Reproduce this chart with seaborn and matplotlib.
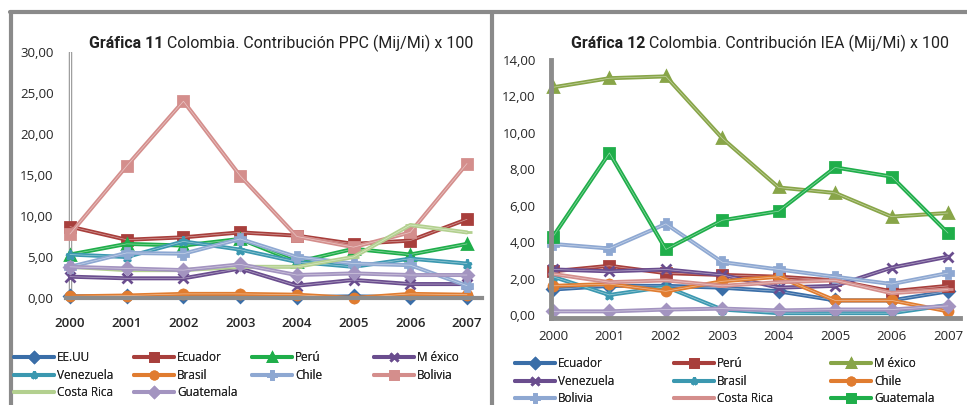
import matplotlib
matplotlib.use("Agg")
import matplotlib.pyplot as plt
import seaborn as sns
import pandas as pd

years = [2000, 2001, 2002, 2003, 2004, 2005, 2006, 2007]

# Gráfica 11 - PPC
ppc_names = ["EE.UU", "Ecuador", "Perú", "M éxico", "Venezuela", "Brasil",
             "Chile", "Bolivia", "Costa Rica", "Guatemala"]
ppc_eeuu = [0.2, 0.2, 0.2, 0.2, 0.1, 0.2, 0.1, 0.1]
ppc_ecuador = [8.7, 7.1, 7.4, 8.0, 7.6, 6.6, 7.0, 9.6]
ppc_peru = [5.3, 6.6, 6.4, 7.2, 4.4, 6.0, 5.3, 6.6]
ppc_mexico = [2.6, 2.4, 2.4, 3.6, 1.5, 2.2, 1.7, 1.7]
ppc_venezuela = [5.3, 5.0, 6.9, 5.9, 4.4, 3.8, 4.8, 4.2]
ppc_brasil = [0.2, 0.3, 0.5, 0.5, 0.4, 0.0, 0.5, 0.4]
ppc_chile = [3.8, 5.5, 5.4, 7.2, 5.0, 4.2, 4.0, 1.5]
ppc_bolivia = [7.8, 16.1, 24.0, 14.9, 7.5, 6.2, 8.0, 16.4]
ppc_costarica = [3.8, 3.4, 3.4, 3.8, 3.8, 5.0, 8.9, 8.0]
ppc_guatemala = [3.8, 3.6, 3.4, 4.1, 2.8, 3.0, 2.8, 2.8]

# Gráfica 12 - IEA
iea_names = ["Ecuador", "Perú", "M éxico", "Venezuela", "Brasil", "Chile",
             "Bolivia", "Costa Rica", "Guatemala", "_otro"]
iea_ecuador = [1.4, 1.6, 1.6, 1.5, 1.3, 0.8, 0.8, 1.3]
iea_peru = [2.4, 2.7, 2.3, 2.2, 2.1, 1.9, 1.3, 1.6]
iea_mexico = [12.5, 13.0, 13.1, 9.7, 7.0, 6.7, 5.4, 5.6]
iea_venezuela = [2.5, 2.4, 2.5, 2.2, 1.5, 1.6, 2.6, 3.2]
iea_brasil = [2.1, 1.1, 1.55, 0.3, 0.1, 0.1, 0.1, 0.55]
iea_chile = [1.6, 1.7, 1.3, 1.85, 2.1, 0.8, 0.8, 0.2]
iea_bolivia = [3.9, 3.65, 5.0, 2.9, 2.5, 2.1, 1.7, 2.3]
iea_costarica = [2.25, 1.8, 1.9, 1.6, 1.8, 1.9, 1.2, 1.4]
iea_guatemala = [4.3, 8.9, 3.6, 5.2, 5.7, 8.1, 7.6, 4.5]
iea_otro = [0.2, 0.2, 0.3, 0.35, 0.25, 0.3, 0.3, 0.5]

ppc_values = [ppc_eeuu, ppc_ecuador, ppc_peru, ppc_mexico, ppc_venezuela,
              ppc_brasil, ppc_chile, ppc_bolivia, ppc_costarica, ppc_guatemala]
iea_values = [iea_ecuador, iea_peru, iea_mexico, iea_venezuela, iea_brasil,
              iea_chile, iea_bolivia, iea_costarica, iea_guatemala, iea_otro]

# styles
ppc_colors = ["#3a6ea8", "#a83f3c", "#1fae4a", "#6a4d8e", "#3b98b0", "#e07c30",
              "#8ea8d2", "#d48e8c", "#b3d08f", "#a394c0"]
ppc_markers = ["D", "s", "^", "x", "*", "o", "P", "s", "_", "D"]
iea_colors = ["#3a6ea8", "#a83f3c", "#88a548", "#6a4d8e", "#3b98b0", "#e07c30",
              "#8ea8d2", "#d48e8c", "#1fae4a", "#a394c0"]
iea_markers = ["D", "s", "^", "x", "*", "o", "P", "_", "s", "D"]

sns.set_style("white")
plt.rcParams["font.family"] = ["Open Sans", "DejaVu Sans"]

W, H = 967, 405
fig = plt.figure(figsize=(W / 100, H / 100), dpi=100)


def px_axes(x0, x1, y0, y1):
    return fig.add_axes([x0 / W, 1 - y1 / H, (x1 - x0) / W, (y1 - y0) / H])


def draw(ax, names, values, colors, markers):
    handles = []
    for name, vals, c, m in zip(names, values, colors, markers):
        df = pd.DataFrame({"year": years, "val": vals})
        sns.lineplot(data=df, x="year", y="val", ax=ax, color=c, marker=m,
                     markersize=6.5, markeredgecolor=c, markeredgewidth=2,
                     linewidth=2.9, label=name, clip_on=False, legend=False)
        ax.plot(years, vals, color="white", lw=0.5, alpha=0.5, clip_on=False)
        handles.append(ax.lines[-2])
    return handles


def column_legends(handles, labels, ncol, xs, y_top):
    for col in range(ncol):
        idx = list(range(col, len(handles), ncol))
        idx = [i for i in idx if not labels[i].startswith("_")]
        leg = fig.legend([handles[i] for i in idx], [labels[i] for i in idx],
                         loc="upper left", bbox_to_anchor=(xs[col] / W, 1 - y_top / H),
                         frameon=False, fontsize=8.5, handlelength=3.4,
                         handletextpad=0.25, labelspacing=0.4, markerscale=0.8,
                         borderpad=0, borderaxespad=0)
        fig.add_artist(leg)


def title(x, y, bold, rest):
    t = fig.text(x / W, 1 - y / H, bold, fontsize=11.5, fontweight="bold",
                 family=["Roboto", "DejaVu Sans"], va="center", ha="left", color="#222222")
    fig.canvas.draw()
    bb = t.get_window_extent()
    fig.text(bb.x1 / W + 4 / W, 1 - y / H, rest, fontsize=11.5,
             family=["Roboto", "DejaVu Sans"], va="center", ha="left", color="#222222")


# left chart
ax1 = px_axes(66, 482, 52, 300)
h1 = draw(ax1, ppc_names, ppc_values, ppc_colors, ppc_markers)
ax1.set_xlim(2000 - 4 / 56.71, 2007 + 15 / 56.71)
ax1.set_ylim(-2 / 8.2, 30)
ax1.set_yticks([0, 5, 10, 15, 20, 25, 30])
ax1.set_yticklabels([f"{v:.2f}".replace(".", ",") for v in [0, 5, 10, 15, 20, 25, 30]])
ax1.set_xticks(years)
for s in ["top", "right", "left"]:
    ax1.spines[s].set_visible(False)
ax1.axvline(2000, color="#9a9a9a", lw=2.5, zorder=0)
ax1.axvline(2000, color="white", lw=0.8, zorder=0)
ax1.spines["bottom"].set_color("#8c8c8c")
ax1.spines["bottom"].set_linewidth(3)
ax1.spines["bottom"].set_position(("data", 0))
ax1.tick_params(axis="y", length=0, labelsize=9.5, pad=9)
ax1.tick_params(axis="x", length=0, labelsize=9.5, pad=14)
for t in ax1.get_xticklabels():
    t.set_fontweight("semibold")
ax1.set_xlabel("")
ax1.set_ylabel("")

# right chart
ax2 = px_axes(551, 960, 60, 318)
h2 = draw(ax2, iea_names, iea_values, iea_colors, iea_markers)
ax2.set_xlim(2000 - 2 / 56.4, 2007 + 12 / 56.4)
ax2.set_ylim(-3 / 18.21, 14)
ax2.set_yticks([0, 2, 4, 6, 8, 10, 12, 14])
ax2.set_yticklabels([f"{v:.2f}".replace(".", ",") for v in [0, 2, 4, 6, 8, 10, 12, 14]])
ax2.set_xticks(years)
for s in ["top", "right"]:
    ax2.spines[s].set_visible(False)
for s in ["left", "bottom"]:
    ax2.spines[s].set_color("#8c8c8c")
    ax2.spines[s].set_linewidth(3.5)
ax2.tick_params(axis="y", length=0, labelsize=9.5, pad=11)
ax2.tick_params(axis="x", length=0, labelsize=9.5, pad=9)
ax2.set_xlabel("")
ax2.set_ylabel("")

# titles
title(89, 43, "Gráfica 11", "Colombia. Contribución PPC (Mij/Mi) x 100")
title(571, 43, "Gráfica 12", "Colombia. Contribución IEA (Mij/Mi) x 100")

# legends (row-wise order, fixed column positions)
column_legends(h1, ppc_names, 4, [14, 134, 252, 374], 351)
column_legends(h2, iea_names, 3, [515, 674, 831], 357)

# panel frames
fr = fig.add_axes([0, 0, 1, 1], facecolor="none")
fr.set_xlim(0, W)
fr.set_ylim(H, 0)
fr.axis("off")
fr.plot([10, W], [12, 12], color="#8a8a8a", lw=3)
fr.plot([11, 11], [12, H], color="#8a8a8a", lw=3)
fr.plot([492, 492], [12, H], color="#8a8a8a", lw=3)

fig.savefig("out.png", dpi=100)
